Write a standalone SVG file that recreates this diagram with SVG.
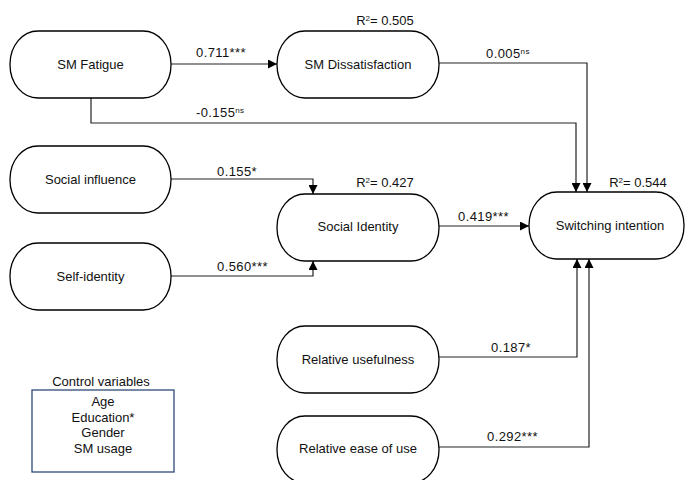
<svg xmlns="http://www.w3.org/2000/svg" width="685" height="480" viewBox="0 0 685 480">
  <style>
    text { font-family: "Liberation Sans", Arial, sans-serif; font-size: 13px; fill: #111; }
    .node { fill: #fff; stroke: #000; stroke-width: 1.3; }
    .conn { fill: none; stroke: #222; stroke-width: 1.2; }
    .sup { font-size: 8px; }
    .lbl { font-size: 13px; letter-spacing: 0.4px; }
    .box { fill: #fff; stroke: #2e4a78; stroke-width: 1.3; }
  </style>
  <defs>
    <marker id="arrow" viewBox="0 0 10 10" refX="10" refY="5" markerWidth="9" markerHeight="9" markerUnits="userSpaceOnUse" orient="auto">
      <path d="M0,0 L10,5 L0,10 z" fill="#000"/>
    </marker>
  </defs>

  <rect width="685" height="480" fill="#fff"/>

  <!-- connectors -->
  <g id="connectors">
    <path class="conn" d="M171,64 H277" marker-end="url(#arrow)"/>
    <path class="conn" d="M439,63 H587 V192" marker-end="url(#arrow)"/>
    <path class="conn" d="M91,98 V123 H576 V192" marker-end="url(#arrow)"/>
    <path class="conn" d="M171,179 H313 V194" marker-end="url(#arrow)"/>
    <path class="conn" d="M171,276 H313 V261" marker-end="url(#arrow)"/>
    <path class="conn" d="M439,226 H529" marker-end="url(#arrow)"/>
    <path class="conn" d="M439,357 H577 V259" marker-end="url(#arrow)"/>
    <path class="conn" d="M439,447 H589 V259" marker-end="url(#arrow)"/>

    <text class="lbl" x="196" y="57">0.711***</text>
    <text class="lbl" x="486" y="58">0.005<tspan class="sup" dy="-4">ns</tspan></text>
    <text class="lbl" x="196" y="117">-0.155<tspan class="sup" dy="-4">ns</tspan></text>
    <text class="lbl" x="217" y="176">0.155*</text>
    <text class="lbl" x="217" y="271">0.560***</text>
    <text class="lbl" x="458" y="221">0.419***</text>
    <text class="lbl" x="491" y="352">0.187*</text>
    <text class="lbl" x="487" y="441">0.292***</text>
  </g>

  <!-- nodes -->
  <g id="sm-fatigue">
    <rect class="node" x="10" y="31" width="161" height="67" rx="28" ry="33"/>
    <text x="90.5" y="69" text-anchor="middle">SM Fatigue</text>
  </g>
  <g id="sm-dissatisfaction">
    <rect class="node" x="277" y="31" width="162" height="67" rx="28" ry="33"/>
    <text x="358" y="69" text-anchor="middle">SM Dissatisfaction</text>
    <text x="385" y="25" text-anchor="middle">R<tspan class="sup" dy="-4">2</tspan><tspan dy="4">= 0.505</tspan></text>
  </g>
  <g id="social-influence">
    <rect class="node" x="10" y="146" width="161" height="67" rx="28" ry="33"/>
    <text x="90.5" y="184" text-anchor="middle">Social influence</text>
  </g>
  <g id="self-identity">
    <rect class="node" x="10" y="243" width="161" height="67" rx="28" ry="33"/>
    <text x="90.5" y="281" text-anchor="middle">Self-identity</text>
  </g>
  <g id="social-identity">
    <rect class="node" x="277" y="194" width="162" height="67" rx="28" ry="33"/>
    <text x="358" y="231" text-anchor="middle">Social Identity</text>
    <text x="385" y="187" text-anchor="middle">R<tspan class="sup" dy="-4">2</tspan><tspan dy="4">= 0.427</tspan></text>
  </g>
  <g id="switching-intention">
    <rect class="node" x="529" y="192" width="155" height="67" rx="28" ry="33"/>
    <text x="610" y="230" text-anchor="middle">Switching intention</text>
    <text x="638" y="187" text-anchor="middle">R<tspan class="sup" dy="-4">2</tspan><tspan dy="4">= 0.544</tspan></text>
  </g>
  <g id="relative-usefulness">
    <rect class="node" x="277" y="326" width="162" height="67" rx="28" ry="33"/>
    <text x="358" y="364" text-anchor="middle">Relative usefulness</text>
  </g>
  <g id="relative-ease-of-use">
    <rect class="node" x="277" y="416" width="162" height="67" rx="28" ry="33"/>
    <text x="358" y="453" text-anchor="middle">Relative ease of use</text>
  </g>

  <g id="control-variables">
    <text x="101" y="386" text-anchor="middle">Control variables</text>
    <rect class="box" x="32" y="390" width="142" height="82"/>
    <text x="103" y="406" text-anchor="middle">Age</text>
    <text x="103" y="421.5" text-anchor="middle">Education*</text>
    <text x="103" y="437" text-anchor="middle">Gender</text>
    <text x="103" y="453" text-anchor="middle">SM usage</text>
  </g>
</svg>
